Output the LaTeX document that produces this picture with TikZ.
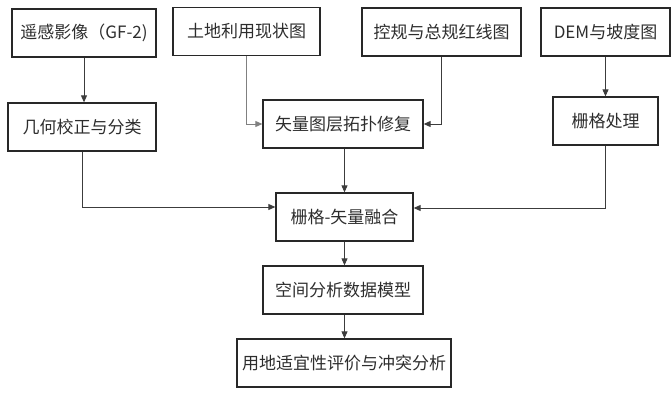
\documentclass[tikz,border=0pt]{standalone}
\usepackage{fontspec}
\setmainfont{Noto Sans CJK SC}
\usetikzlibrary{positioning,arrows.meta}
\definecolor{boxline}{RGB}{40,40,40}
\definecolor{arrline}{RGB}{60,60,60}
\definecolor{txtgray}{RGB}{45,45,45}

\begin{document}
\begin{tikzpicture}[x=1pt,y=-1pt,
    stepbox/.style={draw=boxline,line width=1.3pt,inner sep=0pt,
      minimum height=48pt,text=txtgray,
      font=\fontsize{17}{20}\selectfont},
    arr/.style={arrline,line width=0.9pt,
      -{Triangle[length=7pt,width=6pt]}}]
    \useasboundingbox (0,0) rectangle (672,393);
    % input data
    \node[stepbox,minimum width=144pt] (rs) at (84,33) {遥感影像（GF-2)};
    \node[stepbox,minimum width=147pt] (lu) at (246.5,31.5) {土地利用现状图};
    \node[stepbox,minimum width=159pt] (kg) at (441.5,32) {控规与总规红线图};
    \node[stepbox,minimum width=129pt] (dem) at (605.5,32) {DEM与坡度图};
    % preprocessing
    \node[stepbox,minimum width=148pt] (jh) at (82,127) {几何校正与分类};
    \node[stepbox,minimum width=160pt] (sl) at (343,124) {矢量图层拓扑修复};
    \node[stepbox,minimum width=105pt] (sg) at (605.5,121) {栅格处理};
    % fusion and analysis
    \node[stepbox,minimum width=137pt] (fus) at (344.5,217) {栅格-矢量融合};
    \node[stepbox,minimum width=160pt] (sp) at (343,290) {空间分析数据模型};
    \node[stepbox,minimum width=214pt] (ev) at (344,363) {用地适宜性评价与冲突分析};

    \draw[arr] (rs.south) -- (rs.south |- jh.north);
    \draw[arr,draw=gray] (lu.south) |- (sl.west);
    \draw[arr] (kg.south) |- (sl.east);
    \draw[arr] (dem.south) -- (dem.south |- sg.north);
    \draw[arr] (jh.south) |- ([yshift=10pt]fus.west);
    \draw[arr] (sl.south -| fus.north) -- (fus.north);
    \draw[arr] (sg.south) |- ([yshift=9pt]fus.east);
    \draw[arr] (fus.south) -- (fus.south |- sp.north);
    \draw[arr] (sp.south -| fus.south) -- (fus.south |- ev.north);
\end{tikzpicture}
\end{document}
